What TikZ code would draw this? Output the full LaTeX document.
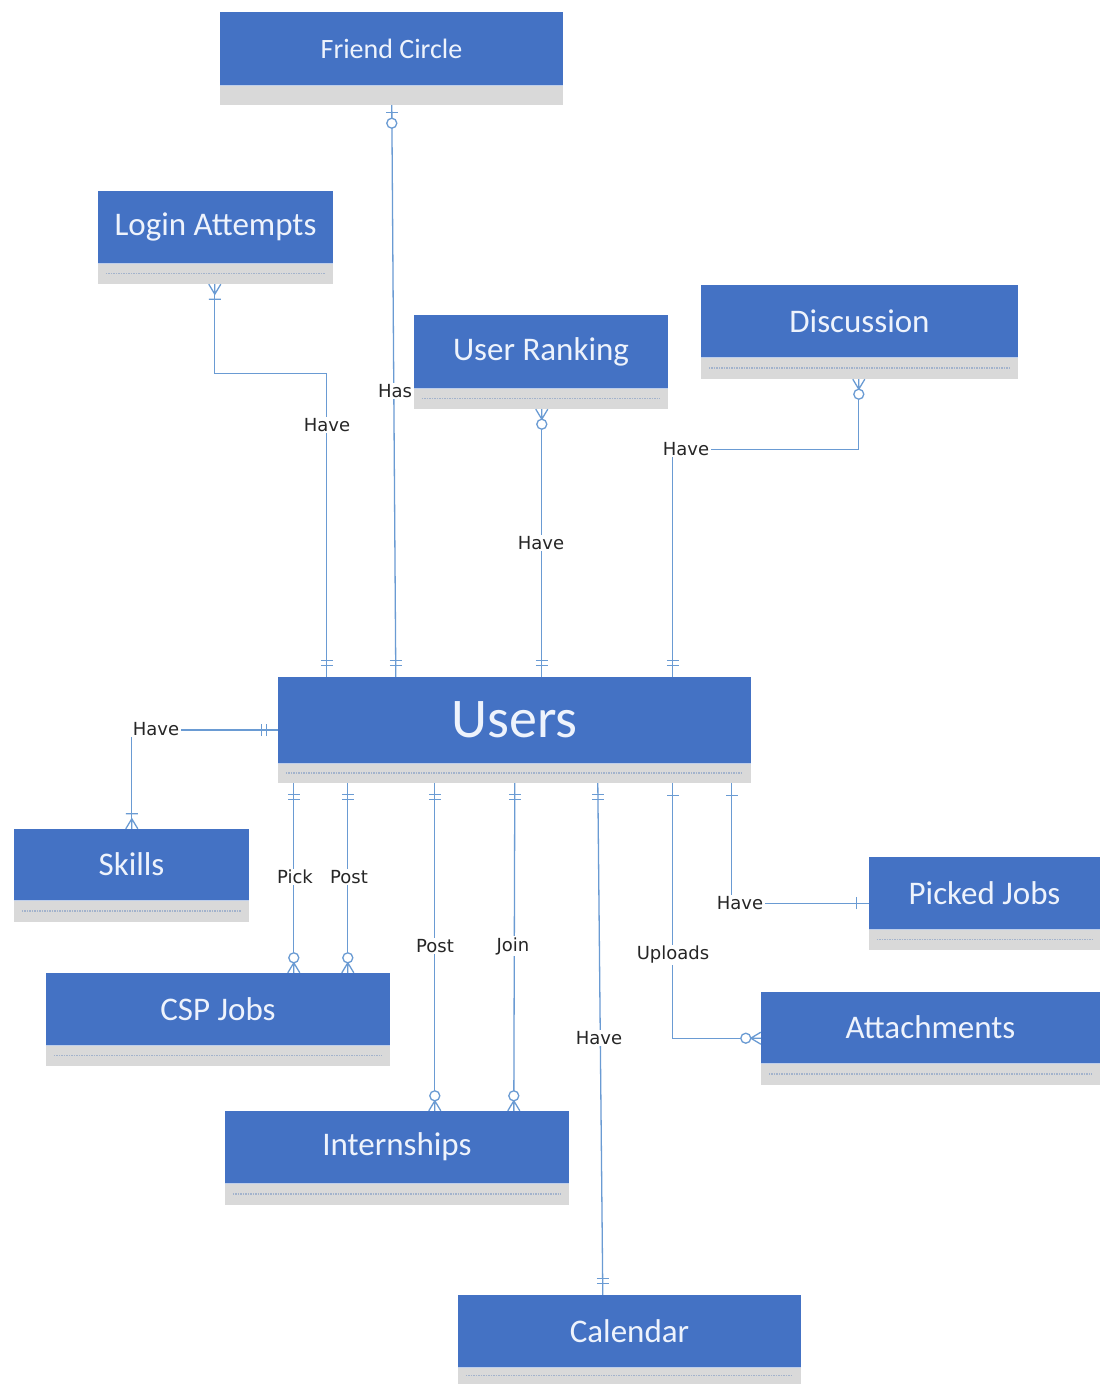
\documentclass[tikz,border=0pt]{standalone}
\usepackage{fontspec}
\newfontfamily\hfont{Carlito}
\newfontfamily\lfont{DejaVu Sans}
\definecolor{hdrblue}{HTML}{4472C4}
\definecolor{stripgrey}{HTML}{D9D9D9}
\definecolor{linkblue}{HTML}{6A9BD3}
\definecolor{dotc}{HTML}{A3B3CC}
\definecolor{hdrtext}{HTML}{EEF3FC}
\tikzset{
 hdr/.style={fill=hdrblue, draw=none, text=hdrtext, inner sep=0pt},
 strip/.style={fill=stripgrey, draw=none, inner sep=0pt},
 dotline/.style={draw=dotc, line width=1.3pt, dash pattern=on 1.5pt off 1pt},
 link/.style={draw=linkblue, line width=1.3pt},
 lbl/.style={fill=white, inner sep=1.5pt, font=\lfont\fontsize{18}{20}\selectfont, text=black!85},
 mk/.style={draw=linkblue, line width=1.3pt},
 pics/onlyone/.style={code={\draw[mk] (11,-6)--(11,6) (16,-6)--(16,6);}},
 pics/one/.style={code={\draw[mk] (12,-6)--(12,6);}},
 pics/zeroone/.style={code={\draw[mk] (7,-6)--(7,6); \draw[mk, fill=white] (18,0) circle (5pt);}},
 pics/zeromany/.style={code={\draw[mk] (0,-6)--(10,0)--(0,6) (0,0)--(10,0); \draw[mk, fill=white] (15,0) circle (5pt);}},
 pics/onemany/.style={code={\draw[mk] (0,-6)--(10,0)--(0,6) (0,0)--(10,0) (15,-6)--(15,6);}},
}
\newcommand\Entity[8]{%
 \node[strip, minimum width={#4-#2}, minimum height={#6-#5}] (#1G) at ({(#2+#4)/2},{(#5+#6)/2}) {};
 \node[hdr, minimum width={#4-#2}, minimum height={#5-#3}, font=\hfont\fontsize{#7}{#7}\selectfont] (#1) at ({(#2+#4)/2},{(#3+#5)/2}) {#8};
 \draw[draw=white!65!hdrblue, line width=1pt] (#1.south west) -- (#1.south east);
}
\newcommand\Dotted[1]{\draw[dotline] ([xshift=8pt]#1G.west) -- ([xshift=-8pt]#1G.east);}
\begin{document}
\begin{tikzpicture}[x=1pt, y=-1pt]
\useasboundingbox[fill=white] (0,0) rectangle (1100,1384);

\Entity{fc}{220}{12}{563}{85}{105}{28}{Friend Circle}
\Entity{la}{98}{191}{333}{263}{284}{33}{Login Attempts}
\Entity{ur}{414}{315}{668}{388}{409}{33}{User Ranking}
\Entity{d}{701}{285}{1018}{357}{379}{33}{Discussion}
\Entity{u}{278}{677}{751}{763}{783}{56}{Users}
\Entity{s}{14}{829}{249}{900}{922}{33}{Skills}
\Entity{c}{46}{973}{390}{1045}{1066}{33}{CSP Jobs}
\Entity{pj}{869}{857}{1100}{929}{950}{33}{Picked Jobs}
\Entity{a}{761}{992}{1100}{1063}{1085}{33}{Attachments}
\Entity{i}{225}{1111}{569}{1183}{1205}{33}{Internships}
\Entity{cal}{458}{1295}{801}{1367}{1384}{33}{Calendar}
\foreach \e in {la,ur,d,u,s,c,pj,a,i,cal} {\Dotted{\e}}

% connectors
\draw[link] ([xshift=172pt]fcG.south west) coordinate (fc1) -- ([xshift=118pt]u.north west) coordinate (u1);
\draw[link] ([xshift=117pt]laG.south west) coordinate (la1) -- ++(0,89) -| ([xshift=49pt]u.north west) coordinate (u2);
\draw[link] ([xshift=128pt]urG.south west) coordinate (ur1) -- ([xshift=264pt]u.north west) coordinate (u3);
\draw[link] ([xshift=158pt]dG.south west) coordinate (d1) -- ++(0,70) -| ([xshift=395pt]u.north west) coordinate (u4);
\draw[link] ([yshift=-10pt]u.west) coordinate (u5) -| ([xshift=118pt]s.north west) coordinate (s1);
\draw[link] ([xshift=16pt]uG.south west) coordinate (u6) -- ([xshift=248pt]c.north west) coordinate (c1);
\draw[link] ([xshift=70pt]uG.south west) coordinate (u7) -- ([xshift=302pt]c.north west) coordinate (c2);
\draw[link] ([xshift=157pt]uG.south west) coordinate (u8) -- ([xshift=210pt]i.north west) coordinate (i1);
\draw[link] ([xshift=237pt]uG.south west) coordinate (u9) -- ([xshift=289pt]i.north west) coordinate (i2);
\draw[link] ([xshift=320pt]uG.south west) coordinate (u10) -- ([xshift=145pt]cal.north west) coordinate (cal1);
\draw[link] ([xshift=395pt]uG.south west) coordinate (u11) |- ([yshift=25pt]a.south west) coordinate (a1);
\draw[link] ([xshift=454pt]uG.south west) coordinate (u12) |- ([yshift=26pt]pj.south west) coordinate (pj1);

% cardinality marks
\foreach \p in {u1,u2,u3,u4,cal1} {\pic[rotate=90] at (\p) {onlyone};}
\pic[rotate=180] at (u5) {onlyone};
\foreach \p in {u6,u7,u8,u9,u10} {\pic[rotate=-90] at (\p) {onlyone};}
\foreach \p in {u11,u12} {\pic[rotate=-90] at (\p) {one};}
\pic[rotate=-90] at (fc1) {zeroone};
\pic[rotate=-90] at (la1) {onemany};
\pic[rotate=-90] at (ur1) {zeromany};
\pic[rotate=-90] at (d1) {zeromany};
\pic[rotate=90] at (s1) {onemany};
\foreach \p in {c1,c2,i1,i2} {\pic[rotate=90] at (\p) {zeromany};}
\pic[rotate=180] at (a1) {zeromany};
\pic[rotate=180] at (pj1) {one};

% labels
\node[lbl] (l1) at (395,391) {Has};
\node[lbl] (l2) at (327,425) {Have};
\node[lbl] (l3) at (541,543) {Have};
\node[lbl] (l4) at (686,449) {Have};
\node[lbl] (l5) at (156,729) {Have};
\node[lbl] (l6) at (295,877) {Pick};
\node[lbl] (l7) at (349,877) {Post};
\node[lbl] (l8) at (435,946) {Post};
\node[lbl] (l9) at (513,946) {Join};
\node[lbl] (l10) at (599,1038) {Have};
\node[lbl] (l11) at (673,955) {Uploads};
\node[lbl] (l12) at (740,903) {Have};
\end{tikzpicture}
\end{document}
